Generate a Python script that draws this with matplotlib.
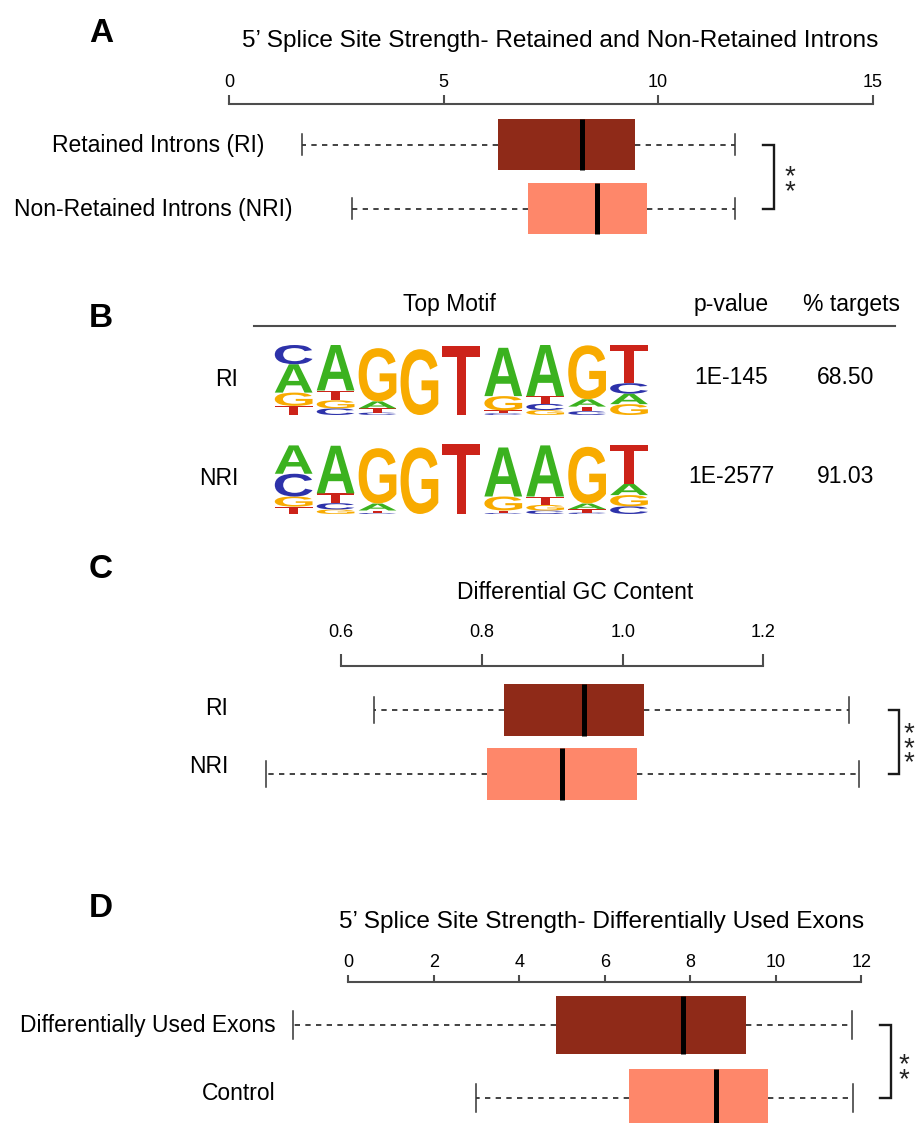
import matplotlib
matplotlib.use("Agg")
import matplotlib.pyplot as plt
from matplotlib.font_manager import FontProperties
from matplotlib.patches import PathPatch
from matplotlib.textpath import TextPath
from matplotlib.transforms import Affine2D

plt.rcParams["font.family"] = ["Liberation Sans", "DejaVu Sans"]

# ============================================================
# DATA
# ============================================================

# A: 5' splice site strength, retained vs non-retained introns
A_LABELS = ["Retained Introns (RI)", "Non-Retained Introns (NRI)"]
A_WHISLO = [1.70, 2.87]
A_Q1 = [6.27, 6.97]
A_MED = [8.24, 8.57]
A_Q3 = [9.46, 9.74]
A_WHISHI = [11.80, 11.80]
A_TICKS = [0, 5, 10, 15]
A_TICKLABELS = ["0", "5", "10", "15"]
A_SIG = "**"

# B: top motif table
B_HEADERS = ["Top Motif", "p-value", "% targets"]
B_ROWS = ["RI", "NRI"]
B_PVALUES = ["1E-145", "1E-2577"]
B_TARGETS = ["68.50", "91.03"]

# motif logos: letters listed bottom -> top, heights in bits
RI_LOGO_LETTERS = ["TGAC", "CGTA", "CTAG", "G", "T", "CTGA", "GCTA", "CTAG", "GACT"]
RI_LOGO_HEIGHTS = [
    [0.26, 0.38, 0.81, 0.55],
    [0.19, 0.23, 0.28, 1.30],
    [0.07, 0.12, 0.20, 1.52],
    [1.88],
    [1.97],
    [0.05, 0.08, 0.41, 1.38],
    [0.14, 0.18, 0.22, 1.48],
    [0.11, 0.13, 0.21, 1.54],
    [0.31, 0.30, 0.30, 1.08],
]
NRI_LOGO_LETTERS = ["TGCA", "GCTA", "CTAG", "G", "T", "CTGA", "CGTA", "CTAG", "CGAT"]
NRI_LOGO_HEIGHTS = [
    [0.21, 0.29, 0.65, 0.81],
    [0.13, 0.18, 0.28, 1.36],
    [0.03, 0.07, 0.20, 1.58],
    [1.90],
    [2.00],
    [0.03, 0.07, 0.40, 1.40],
    [0.10, 0.16, 0.24, 1.46],
    [0.04, 0.10, 0.16, 1.62],
    [0.22, 0.32, 0.33, 1.10],
]

# C: differential GC content
C_LABELS = ["RI", "NRI"]
C_WHISLO = [0.647, 0.4925]
C_Q1 = [0.831, 0.807]
C_MED = [0.945, 0.914]
C_Q3 = [1.030, 1.020]
C_WHISHI = [1.322, 1.336]
C_TICKS = [0.6, 0.8, 1.0, 1.2]
C_TICKLABELS = ["0.6", "0.8", "1.0", "1.2"]
C_SIG = "***"

# D: 5' splice site strength, differentially used exons
D_LABELS = ["Differentially Used Exons", "Control"]
D_WHISLO = [-1.29, 2.98]
D_Q1 = [4.86, 6.57]
D_MED = [7.82, 8.61]
D_Q3 = [9.31, 9.82]
D_WHISHI = [11.79, 11.80]
D_TICKS = [0, 2, 4, 6, 8, 10, 12]
D_TICKLABELS = ["0", "2", "4", "6", "8", "10", "12"]
D_SIG = "**"

# ============================================================
# STYLE
# ============================================================

W, H = 922, 1123
DARK = "#8f2a18"
LIGHT = "#fe876a"
AXIS_GREY = "#4d4d4d"
LOGO_COLORS = {"A": "#3bb21f", "C": "#2d32aa", "G": "#f8ab00", "T": "#cc2319"}
TXT = 16.5

fig = plt.figure(figsize=(W / 100, H / 100), dpi=100)

# overlay in pixel coordinates for free text
lay = fig.add_axes([0, 0, 1, 1])
lay.set_xlim(0, W)
lay.set_ylim(H, 0)
lay.axis("off")


def stats(lo, q1, med, q3, hi):
    return [dict(whislo=a, q1=b, med=c, q3=d, whishi=e, fliers=[])
            for a, b, c, d, e in zip(lo, q1, med, q3, hi)]


def box_panel(x_px, xlim, spine_px, row1_px, sp, data, ticks, ticklabels,
              tick_len, tick_pad, capw, bracket, sig, star_drop):
    top_val = 1 - (row1_px - spine_px) / sp
    bot_val = 2.6
    h_px = (bot_val - top_val) * sp
    ax = fig.add_axes([x_px[0] / W, 1 - (spine_px + h_px) / H,
                       (x_px[1] - x_px[0]) / W, h_px / H])
    art = ax.bxp(
        data,
        positions=[1, 2],
        widths=0.8,
        capwidths=capw,
        orientation="horizontal",
        patch_artist=True,
        showfliers=False,
        boxprops=dict(linewidth=0),
        medianprops=dict(color="black", linewidth=3.6, solid_capstyle="butt"),
        whiskerprops=dict(color="#222222", linewidth=1.2, linestyle=(0, (3.2, 3.2))),
        capprops=dict(color="#333333", linewidth=1.1),
    )
    art["boxes"][0].set_facecolor(DARK)
    art["boxes"][1].set_facecolor(LIGHT)
    for key in ["boxes", "medians", "whiskers", "caps"]:
        for a in art[key]:
            a.set_clip_on(False)

    ax.set_xlim(*xlim)
    ax.set_ylim(bot_val, top_val)
    for s in ["bottom", "left", "right"]:
        ax.spines[s].set_visible(False)
    ax.spines["top"].set_linewidth(1.5)
    ax.spines["top"].set_color(AXIS_GREY)
    ax.set_yticks([])
    ax.xaxis.set_ticks_position("top")
    ax.set_xticks(ticks)
    ax.set_xticklabels(ticklabels)
    ax.tick_params(axis="x", direction="out", length=tick_len, width=1.5,
                   color=AXIS_GREY, pad=tick_pad, labelsize=13,
                   top=True, bottom=False, labeltop=True, labelbottom=False)
    ax.patch.set_visible(False)

    xl, xr, xs = bracket
    ax.plot([xl, xr, xr, xl], [1, 1, 2, 2], color="#1a1a1a", lw=1.7,
            clip_on=False, solid_joinstyle="miter")
    # significance stars stacked vertically beside the bracket
    ax.annotate("\n".join(sig), xy=(xs, 1.5), xytext=(0, -star_drop),
                textcoords="offset points", ha="center", va="center",
                fontsize=20, linespacing=0.42, color="#222222",
                annotation_clip=False)
    return ax


LOGO_FONT = FontProperties(family="Liberation Sans", weight="bold")


def draw_logo(rect_px, letters, heights):
    x0, y0, x1, y1 = rect_px
    ax = fig.add_axes([x0 / W, 1 - y1 / H, (x1 - x0) / W, (y1 - y0) / H])
    ax.set_xlim(0, len(letters))
    ax.set_ylim(0, 2)
    ax.axis("off")
    for i, (col, hs) in enumerate(zip(letters, heights)):
        base = 0
        for ch, h in zip(col, hs):
            tp = TextPath((0, 0), ch, size=1, prop=LOGO_FONT)
            bb = tp.get_extents()
            tr = (Affine2D().translate(-bb.x0, -bb.y0)
                  .scale(0.9 / bb.width, h / bb.height)
                  .translate(i + 0.05, base))
            ax.add_patch(PathPatch(tr.transform_path(tp),
                                   facecolor=LOGO_COLORS[ch], edgecolor="none"))
            base += h
    return ax


# ============================================================
# PANEL LETTERS
# ============================================================

for letter, yb in zip("ABCD", [42, 327, 578, 917]):
    lay.text(89, yb, letter, fontsize=24, fontweight="bold", ha="left", va="baseline")

# ============================================================
# A
# ============================================================

lay.text(560, 47, "5\u2019 Splice Site Strength- Retained and Non-Retained Introns",
         fontsize=17.6, ha="center", va="baseline")
lay.text(158, 152, A_LABELS[0], fontsize=TXT, ha="center", va="baseline")
lay.text(153, 216, A_LABELS[1], fontsize=TXT, ha="center", va="baseline")
box_panel((229, 872.5), (0, 15), 104, 144.5, 64,
          stats(A_WHISLO, A_Q1, A_MED, A_Q3, A_WHISHI),
          A_TICKS, A_TICKLABELS, 6.5, 3.2, 0.34,
          (12.45, 12.70, 13.08), A_SIG, 6)

# ============================================================
# B
# ============================================================

for txt, xc in zip(B_HEADERS, [449, 731, 851]):
    lay.text(xc, 311, txt, fontsize=TXT, ha="center", va="baseline")
lay.plot([254, 895], [326, 326], color=AXIS_GREY, lw=1.5)
for row, yb, pv, tg in zip(B_ROWS, [384, 483], B_PVALUES, B_TARGETS):
    lay.text(238, yb + 2, row, fontsize=TXT, ha="right", va="baseline")
    lay.text(731, yb, pv, fontsize=TXT, ha="center", va="baseline")
    lay.text(846, yb, tg, fontsize=TXT, ha="center", va="baseline")

draw_logo((272.7, 345, 650, 415), RI_LOGO_LETTERS, RI_LOGO_HEIGHTS)
draw_logo((272.7, 444, 650, 514), NRI_LOGO_LETTERS, NRI_LOGO_HEIGHTS)

# ============================================================
# C
# ============================================================

lay.text(575, 599, "Differential GC Content", fontsize=TXT, ha="center", va="baseline")
lay.text(228, 715, C_LABELS[0], fontsize=TXT, ha="right", va="baseline")
lay.text(228, 773, C_LABELS[1], fontsize=TXT, ha="right", va="baseline")
box_panel((341.3, 763.4), (0.6, 1.2), 666, 710, 64,
          stats(C_WHISLO, C_Q1, C_MED, C_Q3, C_WHISHI),
          C_TICKS, C_TICKLABELS, 8.6, 9.6, 0.42,
          (1.378, 1.3926, 1.4064), C_SIG, 5)

# ============================================================
# D
# ============================================================

lay.text(602, 928, "5\u2019 Splice Site Strength- Differentially Used Exons",
         fontsize=17.6, ha="center", va="baseline")
lay.text(276, 1032, D_LABELS[0], fontsize=TXT, ha="right", va="baseline")
lay.text(275, 1100, D_LABELS[1], fontsize=TXT, ha="right", va="baseline")
box_panel((348.4, 861.4), (0, 12), 982, 1025, 73,
          stats(D_WHISLO, D_Q1, D_MED, D_Q3, D_WHISHI),
          D_TICKS, D_TICKLABELS, 5.0, 3.2, 0.38,
          (12.44, 12.69, 12.99), D_SIG, 8)

fig.savefig("out.png", dpi=100)
